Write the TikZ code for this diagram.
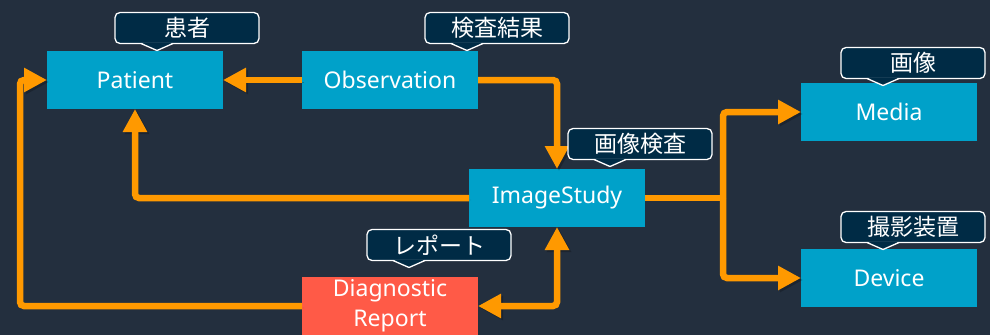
\documentclass[tikz,border=0pt]{standalone}
\usepackage{fontspec}
\setmainfont{Noto Sans}
\newfontfamily\jpfont{Noto Sans CJK JP}
\usetikzlibrary{arrows.meta}

\definecolor{bgink}{HTML}{232F3E}
\definecolor{resblue}{HTML}{00A1C9}
\definecolor{resred}{HTML}{FF5A47}
\definecolor{flowor}{HTML}{FF9900}
\definecolor{tagfill}{HTML}{002B45}

\tikzset{
  resource/.style={fill=resblue, text=white, minimum width=176pt, minimum height=58pt,
    inner sep=0pt, outer sep=0pt, align=center, font=\fontsize{23}{30}\selectfont},
  reportbox/.style={resource, fill=resred},
  tagnode/.style={draw=white, line width=1.3pt, fill=tagfill, rounded corners=5pt,
    text=white, minimum width=144pt, minimum height=31pt, inner sep=0pt, outer sep=0pt,
    font=\jpfont\fontsize{23}{25}\selectfont},
  softshadow/.style={preaction={draw=black, opacity=0.22,
    transform canvas={shift={(2pt,-2pt)}}}},
  flow/.style={draw=flowor, line width=6.5pt, rounded corners=4pt, softshadow,
    -{Triangle[width=23pt,length=23pt]}},
  bothflow/.style={flow, {Triangle[width=23pt,length=23pt]}-{Triangle[width=23pt,length=23pt]}},
  plainflow/.style={draw=flowor, line width=6.5pt, softshadow},
}

% label tag with a small pointer on its lower edge
\newcommand\tagcallout[3]{%
  \node[tagnode] (#1) at (#2) {#3};
  \fill[tagfill] ([xshift=-46pt,yshift=1pt]#1.south) -- ([xshift=-30pt,yshift=-7pt]#1.south)
     -- ([xshift=-14pt,yshift=1pt]#1.south) -- cycle;
  \draw[white, line width=1.3pt, line join=round] ([xshift=-46pt]#1.south)
     -- ([xshift=-30pt,yshift=-7pt]#1.south) -- ([xshift=-14pt]#1.south);
}

\begin{document}
\begin{tikzpicture}[x=1pt, y=-1pt]
\useasboundingbox (0,0) rectangle (990,335);
\fill[bgink] (0,0) rectangle (990,335);

% resources
\node[resource] (patient) at (135,80) {Patient};
\node[resource] (obs) at (390,80) {Observation};
\node[resource] (study) at (557,198) {ImageStudy};
\node[reportbox] (report) at (390,306) {Diagnostic\\Report};
\node[resource] (media) at (889,112) {Media};
\node[resource] (device) at (889,278) {Device};

% bend points of the routed connectors
\coordinate (fork) at (723,198);
\coordinate (lrail) at (20,306);

% references between resources
\draw[flow] (obs.west) -- (patient.east);
\draw[flow] (obs.east) -| (study.north);
\draw[flow] (study.west) -| (patient.south);
\draw[plainflow] (study.east) -- (fork);
\draw[flow] (fork) |- (media.west);
\draw[flow] (fork) |- (device.west);
\draw[flow] (report.west) -- (lrail) |- (patient.west);
\draw[bothflow] (study.south) |- (report.east);

% Japanese labels
\tagcallout{tpatient}{187,28}{患者}
\tagcallout{tobs}{497,28}{検査結果}
\tagcallout{tstudy}{640,144}{画像検査}
\tagcallout{treport}{439,245}{レポート}
\tagcallout{tmedia}{913,63}{画像}
\tagcallout{tdevice}{913,227}{撮影装置}
\end{tikzpicture}
\end{document}
